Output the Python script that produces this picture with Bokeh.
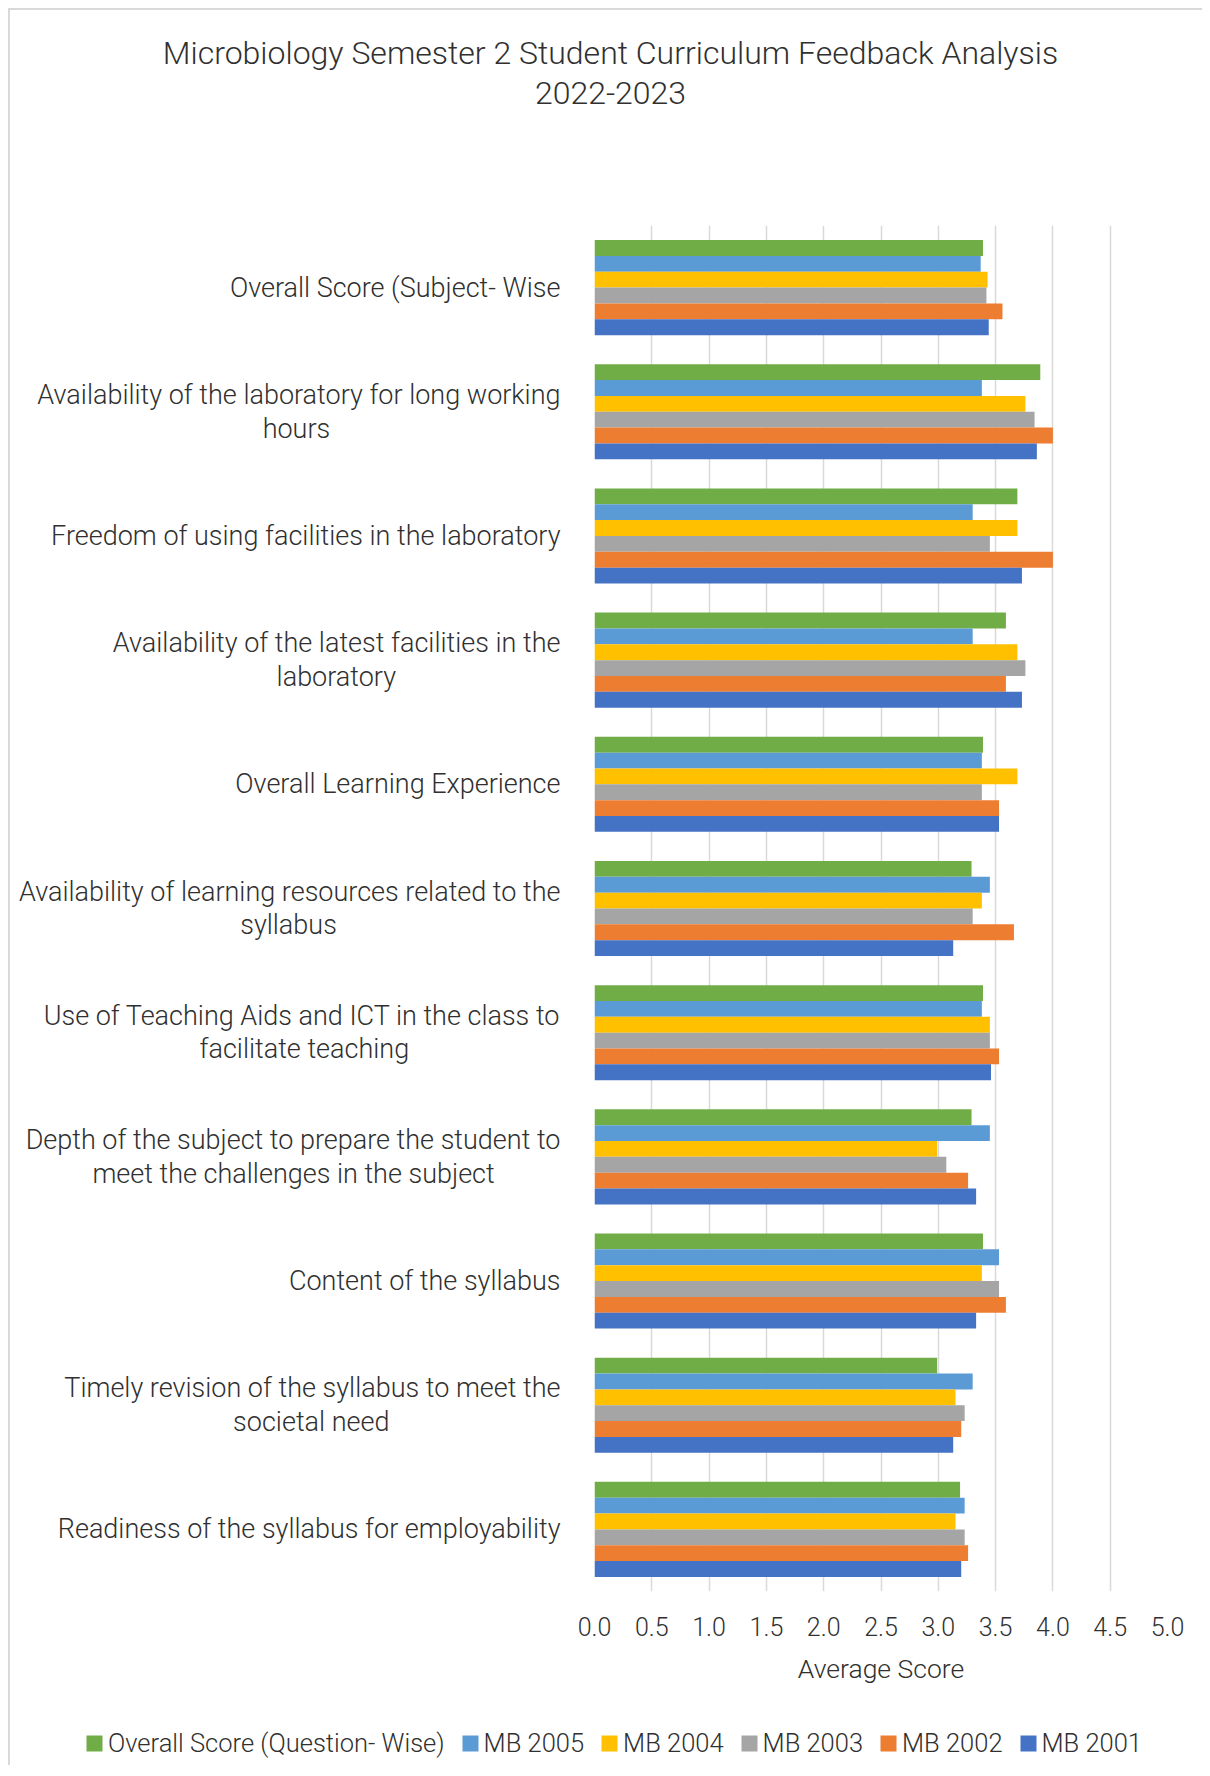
from bokeh.plotting import figure
from bokeh.layouts import column
from bokeh.models import (FactorRange, Range1d, ColumnDataSource, Legend, LegendItem,
                          Label, SingleIntervalTicker, NumeralTickFormatter)
from bokeh.transform import dodge
from bokeh.embed import file_html
from bokeh.resources import INLINE

FONT = "'Roboto Light', Roboto"
TEXT_COLOR = "#303030"

# Categories, top to bottom as shown in the chart
categories = [
    "Overall Score (Subject- Wise",
    "Availability of the laboratory for long working\nhours",
    "Freedom of using facilities in the laboratory",
    "Availability of the latest facilities in the\nlaboratory",
    "Overall Learning Experience",
    "Availability of learning resources related to the\nsyllabus",
    "Use of Teaching Aids and ICT in the class to\nfacilitate teaching",
    "Depth of the subject to prepare the student to\nmeet the challenges in the subject",
    "Content of the syllabus",
    "Timely revision of the syllabus to meet the\nsocietal need",
    "Readiness of the syllabus for employability",
]

overall_question_wise = [3.39, 3.89, 3.69, 3.59, 3.39, 3.29, 3.39, 3.29, 3.39, 2.99, 3.19]
mb_2005 = [3.37, 3.38, 3.30, 3.30, 3.38, 3.45, 3.38, 3.45, 3.53, 3.30, 3.23]
mb_2004 = [3.43, 3.76, 3.69, 3.69, 3.69, 3.38, 3.45, 2.99, 3.38, 3.15, 3.15]
mb_2003 = [3.42, 3.84, 3.45, 3.76, 3.38, 3.30, 3.45, 3.07, 3.53, 3.23, 3.23]
mb_2002 = [3.56, 4.00, 4.00, 3.59, 3.53, 3.66, 3.53, 3.26, 3.59, 3.20, 3.26]
mb_2001 = [3.44, 3.86, 3.73, 3.73, 3.53, 3.13, 3.46, 3.33, 3.33, 3.13, 3.20]

series_names = ["Overall Score (Question- Wise)", "MB 2005", "MB 2004", "MB 2003", "MB 2002", "MB 2001"]
series_values = [overall_question_wise, mb_2005, mb_2004, mb_2003, mb_2002, mb_2001]
series_colors = ["#70AD47", "#5B9BD5", "#FFC000", "#A5A5A5", "#ED7D31", "#4472C4"]

title_line1 = "Microbiology Semester 2 Student Curriculum Feedback Analysis"
title_line2 = "2022-2023"
x_label = "Average Score"

# ---------------------------------------------------------------- layout / style
W = 1192
TITLE_H = 110
MAIN_H = 1581
LEGEND_H = 64

# style: non-breaking-space padding so the second lines of wrapped labels appear centred
line2_pad = {1: 35, 3: 25, 5: 34, 6: 23, 7: 10, 9: 26}
axis_labels = []
for i, c in enumerate(categories):
    if "\n" in c:
        c = c + "\u00a0" * line2_pad.get(i, 0)
    axis_labels.append(c)


def strip_figure(height, xr, yr):
    f = figure(width=W, height=height, x_range=xr, y_range=yr,
               output_backend="svg", toolbar_location=None, title=None,
               x_axis_location=None, y_axis_location=None, frame_align=False,
               min_border=0, min_border_left=0, min_border_right=0,
               min_border_top=0, min_border_bottom=0)
    f.outline_line_color = None
    f.grid.visible = False
    return f


# ---------------------------------------------------------------- title strip
pt = strip_figure(TITLE_H, Range1d(0, W), Range1d(0, TITLE_H))
pt.add_layout(Label(x=600, y=68, text=title_line1, text_align="center", text_baseline="middle",
                    text_font=FONT, text_font_size="32px", text_color=TEXT_COLOR))
pt.add_layout(Label(x=600, y=28, text=title_line2, text_align="center", text_baseline="middle",
                    text_font=FONT, text_font_size="32px", text_color=TEXT_COLOR))

# ---------------------------------------------------------------- main chart
data = dict(cat=axis_labels)
for i, v in enumerate(series_values):
    data[f"s{i}"] = v
source = ColumnDataSource(data)

p = figure(width=W, height=MAIN_H,
           x_range=Range1d(0, 5),
           y_range=FactorRange(*list(reversed(axis_labels))),
           output_backend="svg", toolbar_location=None, title=None, frame_align=False,
           min_border_left=584, min_border_right=35, min_border_top=105, min_border_bottom=110)

bar_h = 0.1276
offsets = [2.5, 1.5, 0.5, -0.5, -1.5, -2.5]
for i, color in enumerate(series_colors):
    p.hbar(y=dodge("cat", offsets[i] * bar_h, range=p.y_range), right=f"s{i}", left=0,
           height=bar_h, source=source, fill_color=color, line_color=None)

p.outline_line_color = None
p.ygrid.grid_line_color = None
p.xgrid.grid_line_color = "#d9d9d9"
p.xgrid.grid_line_width = 1.5
p.xaxis.ticker = SingleIntervalTicker(interval=0.5)
p.xgrid.ticker = SingleIntervalTicker(interval=0.5)
p.xaxis.formatter = NumeralTickFormatter(format="0.0")

for ax in (p.xaxis[0], p.yaxis[0]):
    ax.axis_line_color = None
    ax.major_tick_line_color = None
    ax.minor_tick_line_color = None
    ax.major_tick_out = 0
    ax.major_tick_in = 0
    ax.major_label_text_font = FONT
    ax.major_label_text_color = TEXT_COLOR

p.yaxis.major_label_text_font_size = "27px"
p.yaxis.major_label_standoff = 34
p.yaxis.major_label_text_line_height = 1.05
p.xaxis.major_label_text_font_size = "25px"
p.xaxis.major_label_standoff = 21
p.xaxis.axis_label = x_label
p.xaxis.axis_label_text_font = FONT
p.xaxis.axis_label_text_font_size = "26.5px"
p.xaxis.axis_label_text_font_style = "normal"
p.xaxis.axis_label_text_color = TEXT_COLOR
p.xaxis.axis_label_standoff = 14

# ---------------------------------------------------------------- legend strip
pl = strip_figure(LEGEND_H, Range1d(0, 1), Range1d(0, 1))
items = []
for name, color in zip(series_names, series_colors):
    # zero-size, off-range proxy glyph: only provides the legend swatch
    r = pl.hbar(y=[-1], left=[0], right=[0], height=0.1, fill_color=color, line_color=None)
    items.append(LegendItem(label=name, renderers=[r]))
legend = Legend(items=items, orientation="horizontal", location=(74, 7),
                label_text_font=FONT, label_text_font_size="25.5px", label_text_color=TEXT_COLOR,
                glyph_width=20, glyph_height=20, label_standoff=4, spacing=15,
                padding=0, margin=0, border_line_color=None, background_fill_alpha=0)
pl.add_layout(legend, "center")

layout = column(pt, p, pl, spacing=0)
layout.styles = {"margin-left": "8px", "margin-top": "8px",
                 "border-top": "2px solid #d9d9d9", "border-left": "2px solid #d9d9d9"}

open("out.html", "w").write(file_html(layout, INLINE))
